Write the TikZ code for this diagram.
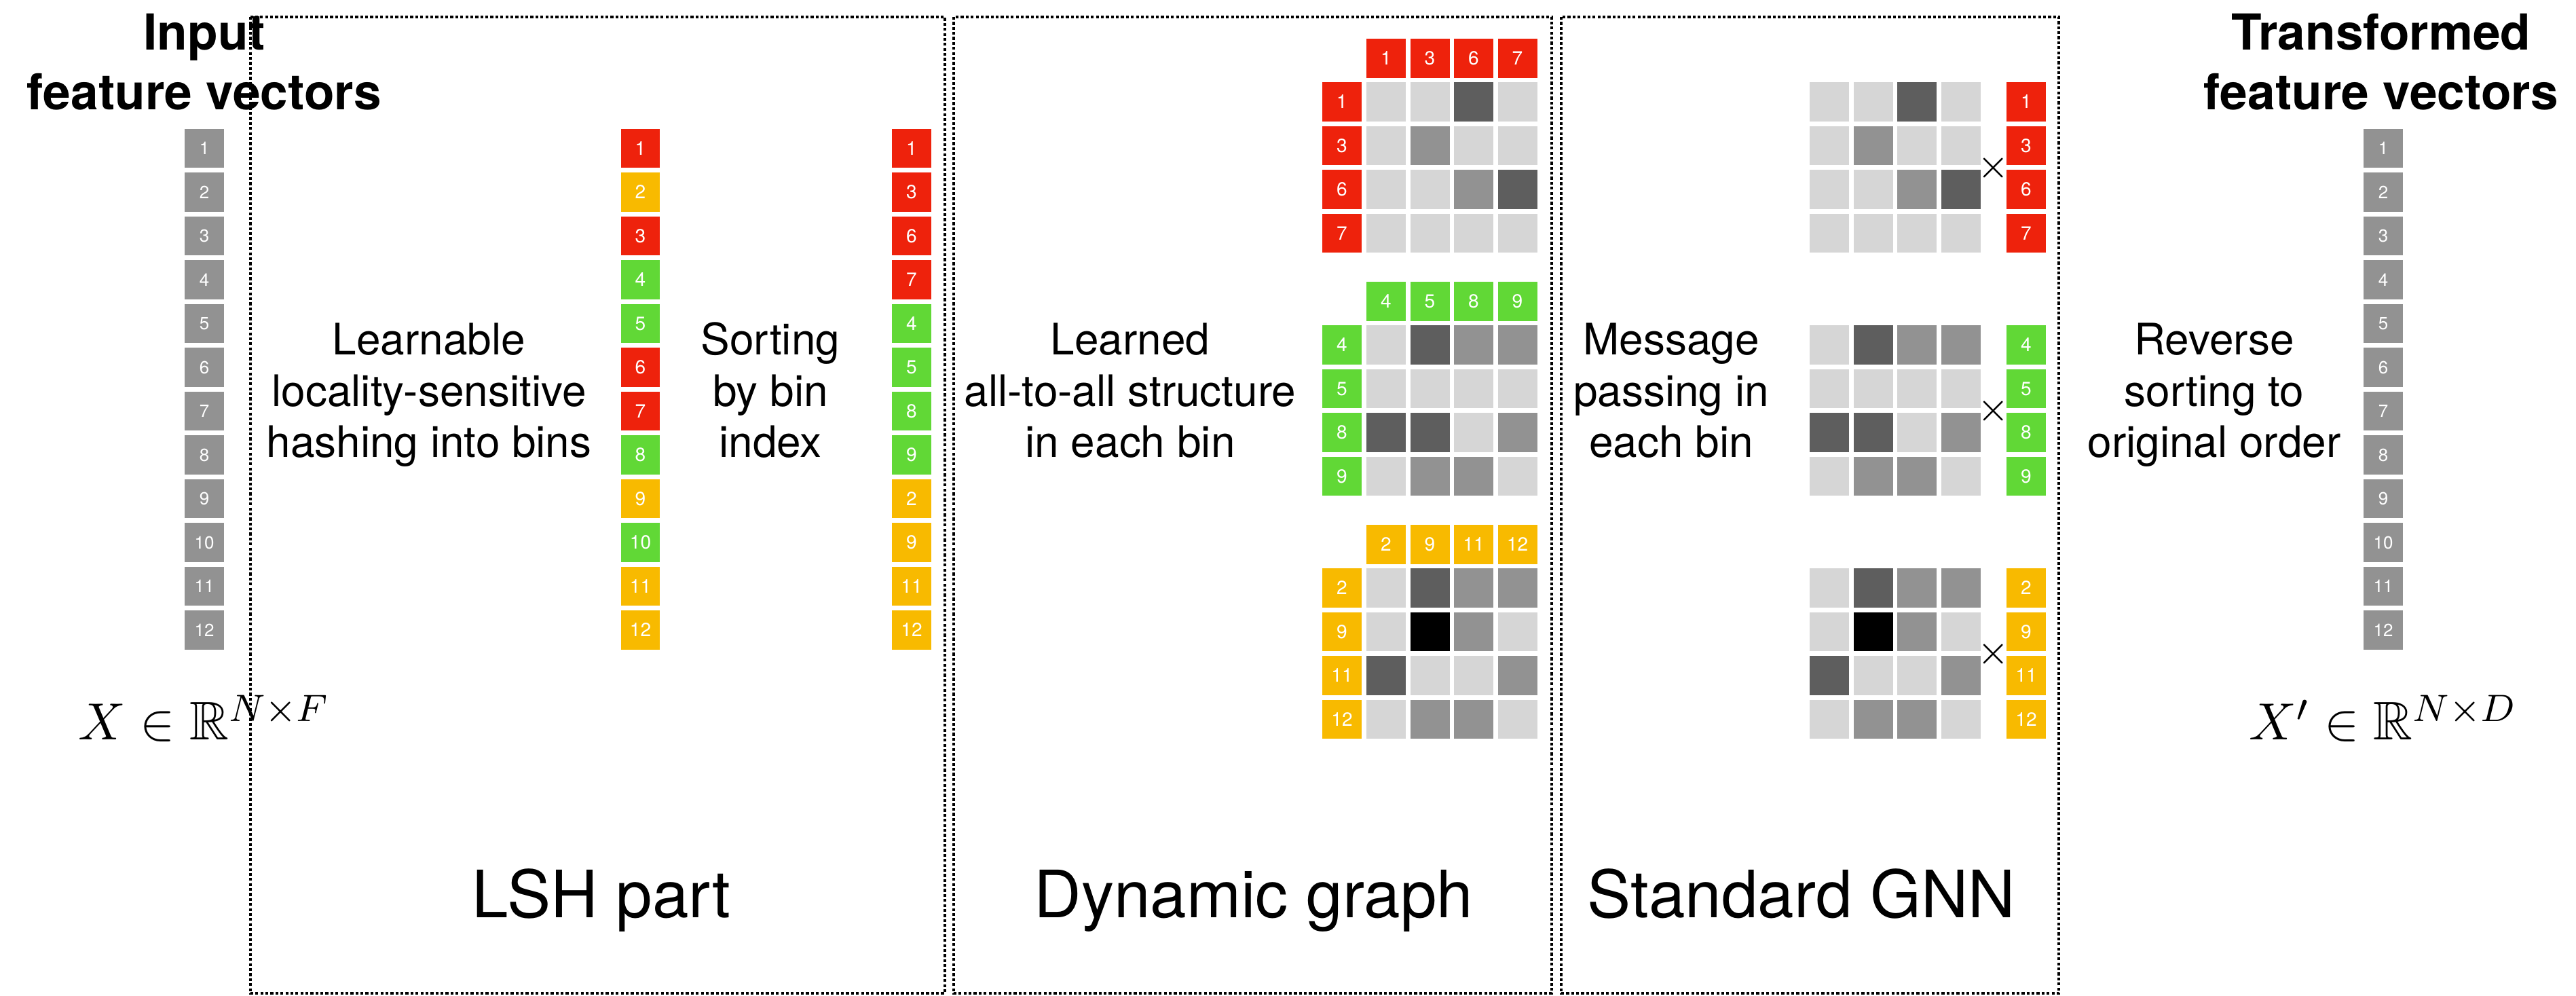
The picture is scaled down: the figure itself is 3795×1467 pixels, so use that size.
\documentclass[tikz,border=0pt]{standalone}
\usepackage{amsmath}
\usepackage{amssymb}
\usepackage{fontspec}
\setmainfont{TeX Gyre Heros}
\usepackage{tikz}
\usetikzlibrary{positioning}

\definecolor{binred}{HTML}{EE220C}
\definecolor{binyellow}{HTML}{F8BA00}
\definecolor{bingreen}{HTML}{61D836}
\definecolor{vecgray}{HTML}{929292}
\definecolor{cellL}{HTML}{D6D6D6}
\definecolor{cellM}{HTML}{929292}
\definecolor{cellD}{HTML}{5E5E5E}
\definecolor{cellK}{HTML}{000000}

\begin{document}
\begin{tikzpicture}[
x=0.005cm, y=-0.005cm,
vec/.style={minimum width=0.29cm,minimum height=0.29cm,inner sep=0pt,outer sep=0pt,
  text=white,font=\fontsize{4}{4}\selectfont},
cell/.style={minimum width=0.29cm,minimum height=0.29cm,inner sep=0pt,outer sep=0pt},
part/.style={draw,line width=0.6pt,dash pattern=on 0.6pt off 0.45pt},
vectitle/.style={align=center,anchor=base,inner sep=0pt,font=\fontsize{10.4}{12.6}\selectfont\bfseries},
caption/.style={align=center,anchor=base,inner sep=0pt,font=\fontsize{9.1}{10.8}\selectfont},
partname/.style={anchor=base,inner sep=0pt,font=\fontsize{13.7}{16}\selectfont},
mathlabel/.style={anchor=base,inner sep=0pt,font=\fontsize{11.4}{13}\selectfont}]
    \useasboundingbox (0,0) rectangle (3795,1467);

    % Draw the three parts
    \draw[part] (369,25) rectangle (1392,1463);
    \draw[part] (1405,25) rectangle (2286,1463);
    \draw[part] (2300,25) rectangle (3033,1463);
    \node[partname] (lshname) at (886,1352) {LSH part};
    \node[partname] (dynname) at (1847,1352) {Dynamic graph};
    \node[partname] (gnnname) at (2654,1352) {Standard GNN};

    % input and output vectors (base = last line)
    \node[vectitle] (intitle) at (301,162) {Input\\feature vectors};
    \node[vectitle] (outtitle) at (3508,162) {Transformed\\feature vectors};
    \foreach \i in {1,...,12}{
      \node[vec,fill=vecgray,font=\fontsize{3.7}{3.7}\selectfont] (in\i) at (301,{218.5+64.5*(\i-1)}) {\i};
      \node[vec,fill=vecgray,font=\fontsize{3.7}{3.7}\selectfont] (out\i) at (3511,{218.5+64.5*(\i-1)}) {\i};
    }
    \node[mathlabel] (xin) at (301,1090) {$X \in \mathbb{R}^{N\times F}$};
    \node[mathlabel] (xout) at (3511,1090) {$X' \in \mathbb{R}^{N\times D}$};

    % hashing and sorting
    \foreach \n/\c [count=\k from 0] in {1/binred,2/binyellow,3/binred,4/bingreen,5/bingreen,6/binred,
        7/binred,8/bingreen,9/binyellow,10/bingreen,11/binyellow,12/binyellow}
      \node[vec,fill=\c] (hash\n) at (943.5,{218.5+64.5*\k}) {\n};
    \foreach \n/\c [count=\k from 0] in {1/binred,3/binred,6/binred,7/binred,4/bingreen,5/bingreen,
        8/bingreen,9/bingreen,2/binyellow,9/binyellow,11/binyellow,12/binyellow}
      \node[vec,fill=\c] (sort\k) at (1343,{218.5+64.5*\k}) {\n};

    \node[caption] (hashtext) at (632,674) {Learnable\\locality-sensitive\\hashing into bins};
    \node[caption] (sorttext) at (1135,674) {Sorting\\by bin\\index};
    \node[caption] (graphtext) at (1665,674) {Learned\\all-to-all structure\\in each bin};
    \node[caption] (msgtext) at (2462,674) {Message\\passing in\\each bin};
    \node[caption] (revtext) at (3262,674) {Reverse\\sorting to\\original order};

    % red bin
    \foreach \l [count=\j from 0] in {1,3,6,7}{
      \node[vec,fill=binred] (redtop\j) at ({2042+64.5*\j},86) {\l};
      \node[vec,fill=binred] (redleft\j) at (1977,{150+64.5*\j}) {\l};
      \node[vec,fill=binred] (redmsg\j) at (2985,{150+64.5*\j}) {\l};
    }
    \foreach \row [count=\i from 0] in {{L,L,D,L},{L,M,L,L},{L,L,M,D},{L,L,L,L}}
      \foreach \s [count=\j from 0] in \row {
        \node[cell,fill=cell\s] (red\i\j) at ({2042+64.5*\j},{150+64.5*\i}) {};
        \node[cell,fill=cell\s] (redgnn\i\j) at ({2695+64.5*\j},{150+64.5*\i}) {};
      }
    \node[font=\fontsize{8}{8}\selectfont,inner sep=0pt] (redtimes) at (2937,247) {$\times$};

    % green bin
    \foreach \l [count=\j from 0] in {4,5,8,9}{
      \node[vec,fill=bingreen] (greentop\j) at ({2042+64.5*\j},444) {\l};
      \node[vec,fill=bingreen] (greenleft\j) at (1977,{508+64.5*\j}) {\l};
      \node[vec,fill=bingreen] (greenmsg\j) at (2985,{508+64.5*\j}) {\l};
    }
    \foreach \row [count=\i from 0] in {{L,D,M,M},{L,L,L,L},{D,D,L,M},{L,M,M,L}}
      \foreach \s [count=\j from 0] in \row {
        \node[cell,fill=cell\s] (green\i\j) at ({2042+64.5*\j},{508+64.5*\i}) {};
        \node[cell,fill=cell\s] (greengnn\i\j) at ({2695+64.5*\j},{508+64.5*\i}) {};
      }
    \node[font=\fontsize{8}{8}\selectfont,inner sep=0pt] (greentimes) at (2937,605) {$\times$};

    % yellow bin
    \foreach \l [count=\j from 0] in {2,9,11,12}{
      \node[vec,fill=binyellow] (yellowtop\j) at ({2042+64.5*\j},802) {\l};
      \node[vec,fill=binyellow] (yellowleft\j) at (1977,{866+64.5*\j}) {\l};
      \node[vec,fill=binyellow] (yellowmsg\j) at (2985,{866+64.5*\j}) {\l};
    }
    \foreach \row [count=\i from 0] in {{L,D,M,M},{L,K,M,L},{D,L,L,M},{L,M,M,L}}
      \foreach \s [count=\j from 0] in \row {
        \node[cell,fill=cell\s] (yellow\i\j) at ({2042+64.5*\j},{866+64.5*\i}) {};
        \node[cell,fill=cell\s] (yellowgnn\i\j) at ({2695+64.5*\j},{866+64.5*\i}) {};
      }
    \node[font=\fontsize{8}{8}\selectfont,inner sep=0pt] (yellowtimes) at (2937,963) {$\times$};
\end{tikzpicture}
\end{document}
